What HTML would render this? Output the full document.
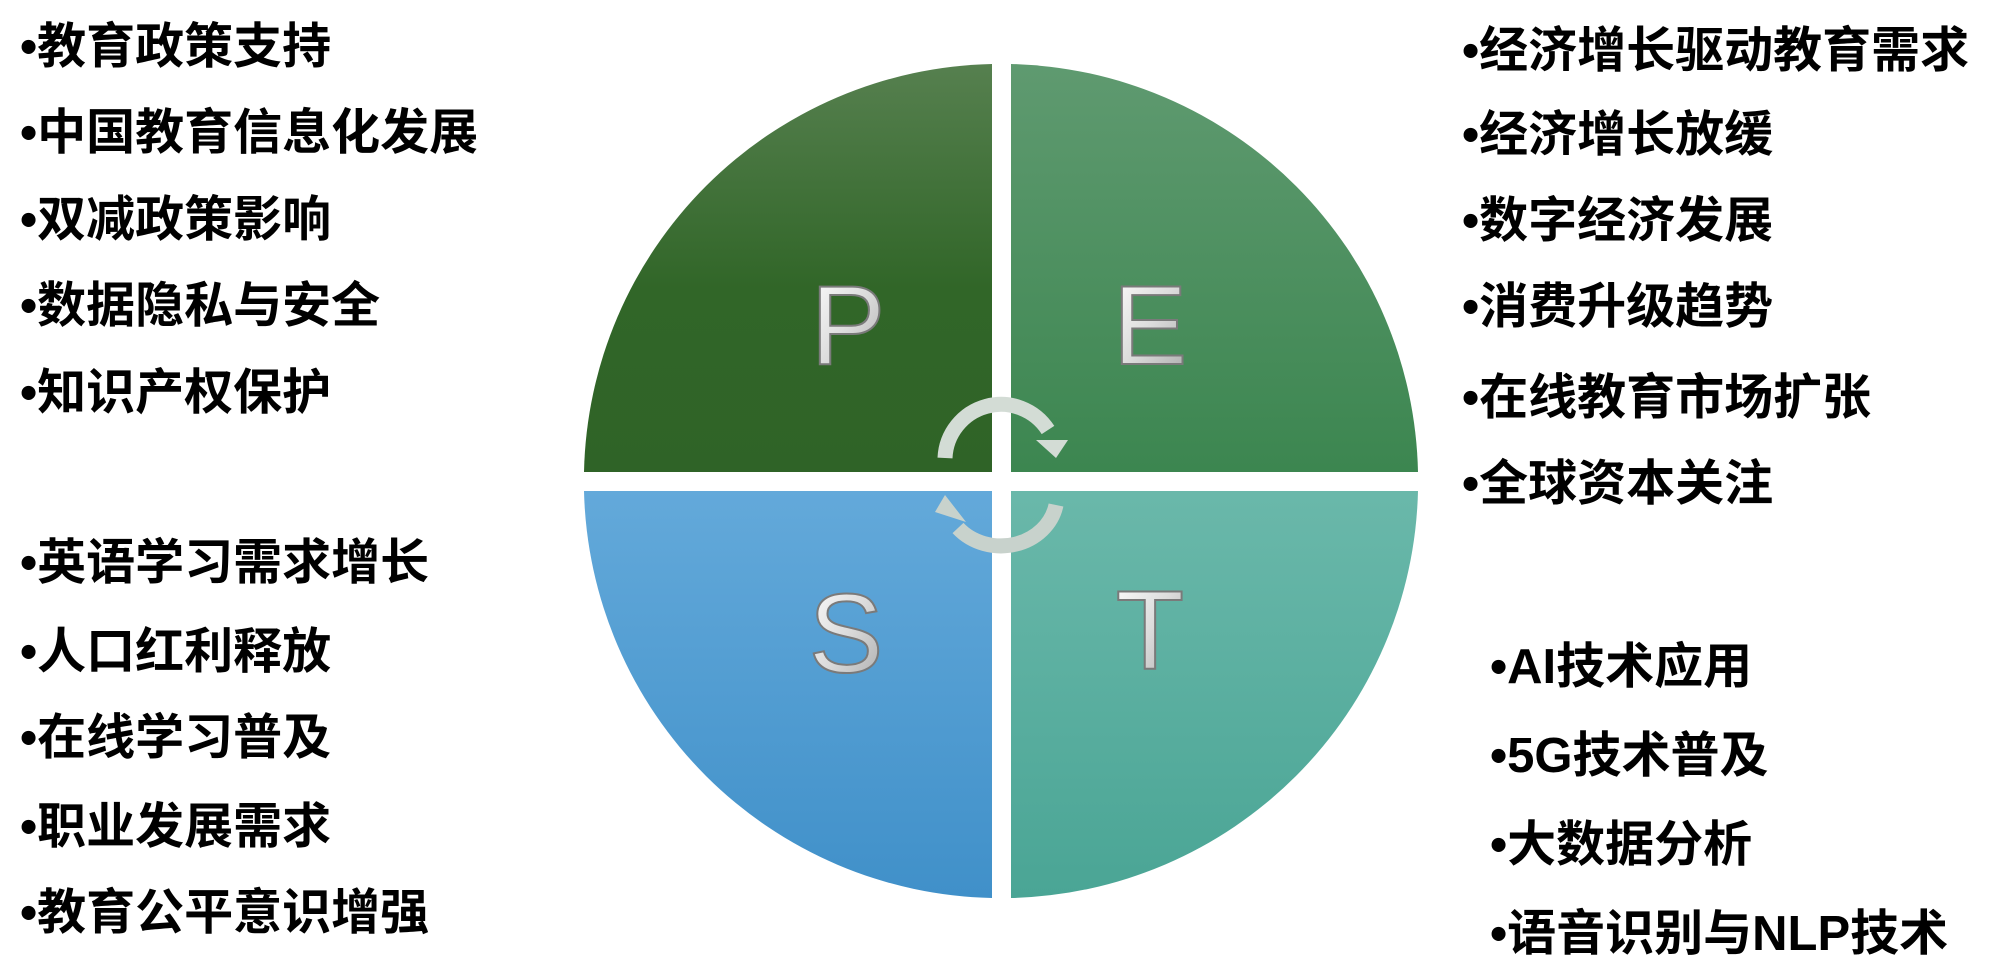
<!DOCTYPE html>
<html><head><meta charset="utf-8"><style>
html,body{margin:0;padding:0;background:#fff;width:1992px;height:964px;overflow:hidden}
svg text.item{font-family:"Liberation Sans","Noto Sans CJK SC",sans-serif;font-weight:bold;font-size:49px;fill:#000}
svg text.big{font-family:"Liberation Sans","DejaVu Sans",sans-serif;font-size:112px;fill:url(#gSilver);stroke:#7a7a7a;stroke-width:2}
</style></head><body>
<svg width="1992" height="964" viewBox="0 0 1992 964">
<defs>
<linearGradient id="gP" x1="0" y1="0" x2="0" y2="1"><stop offset="0" stop-color="#56804f"/><stop offset="0.55" stop-color="#316628"/><stop offset="1" stop-color="#2f6327"/></linearGradient>
<linearGradient id="gE" x1="0" y1="0" x2="0" y2="1"><stop offset="0" stop-color="#5f9a70"/><stop offset="1" stop-color="#3c8650"/></linearGradient>
<linearGradient id="gS" x1="0" y1="0" x2="0" y2="1"><stop offset="0" stop-color="#63a9da"/><stop offset="1" stop-color="#4090c9"/></linearGradient>
<linearGradient id="gT" x1="0" y1="0" x2="0" y2="1"><stop offset="0" stop-color="#6ab8aa"/><stop offset="1" stop-color="#4aa595"/></linearGradient>
<linearGradient id="gSilver" x1="0" y1="0" x2="1" y2="1"><stop offset="0" stop-color="#ffffff"/><stop offset="0.5" stop-color="#dcdcdc"/><stop offset="1" stop-color="#a8a8a8"/></linearGradient>
</defs>
<path d="M992,472 L584,472 A417,417 0 0 1 992,64 Z" fill="url(#gP)"/>
<path d="M1011,472 L1011,64 A417,417 0 0 1 1418,472 Z" fill="url(#gE)"/>
<path d="M992,491 L992,898 A417,417 0 0 1 584,491 Z" fill="url(#gS)"/>
<path d="M1011,491 L1418,491 A417,417 0 0 1 1011,898 Z" fill="url(#gT)"/>
<text class="big" x="848" y="364" text-anchor="middle">P</text>
<text class="big" x="1150" y="364" text-anchor="middle">E</text>
<text class="big" x="846" y="672" text-anchor="middle">S</text>
<text class="big" x="1150" y="669" text-anchor="middle">T</text>
<g>
<path d="M945,458 A56,56 0 0 1 1048,430" fill="none" stroke="#d3dcd5" stroke-width="15"/>
<polygon points="1036,440 1068,440 1056,458" fill="#d3dcd5"/>
</g>
<g>
<path d="M1056,505 A56,50 0 0 1 958,528" fill="none" stroke="#c8d2cc" stroke-width="15"/>
<polygon points="935,512 945,495 966,522" fill="#c8d2cc"/>
</g>
<g>
<text class="item" x="20" y="63">•教育政策支持</text>
<text class="item" x="20" y="149">•中国教育信息化发展</text>
<text class="item" x="20" y="236">•双减政策影响</text>
<text class="item" x="20" y="322">•数据隐私与安全</text>
<text class="item" x="20" y="409">•知识产权保护</text>
</g>
<g>
<text class="item" x="20" y="579">•英语学习需求增长</text>
<text class="item" x="20" y="668">•人口红利释放</text>
<text class="item" x="20" y="754">•在线学习普及</text>
<text class="item" x="20" y="843">•职业发展需求</text>
<text class="item" x="20" y="929">•教育公平意识增强</text>
</g>
<g>
<text class="item" x="1462" y="67">•经济增长驱动教育需求</text>
<text class="item" x="1462" y="151">•经济增长放缓</text>
<text class="item" x="1462" y="237">•数字经济发展</text>
<text class="item" x="1462" y="323">•消费升级趋势</text>
<text class="item" x="1462" y="414">•在线教育市场扩张</text>
<text class="item" x="1462" y="500">•全球资本关注</text>
</g>
<g>
<text class="item" x="1490" y="683">•AI技术应用</text>
<text class="item" x="1490" y="772">•5G技术普及</text>
<text class="item" x="1490" y="861">•大数据分析</text>
<text class="item" x="1490" y="950">•语音识别与NLP技术</text>
</g>
</svg>
</body></html>
